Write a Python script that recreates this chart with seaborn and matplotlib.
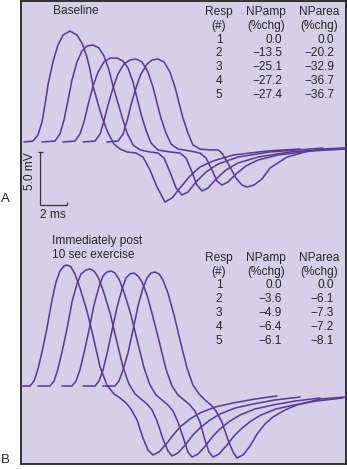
import numpy as np
import pandas as pd
import matplotlib
matplotlib.use("Agg")
import matplotlib.pyplot as plt
import seaborn as sns

# ---------------- DATA ----------------
# Panel A: baseline responses 1..5 (time in ms, amplitude in mV, baseline = 0)
a1_t = [0.30, 0.96, 1.33, 1.63, 1.85, 2.07, 2.44, 2.81, 3.19, 3.70, 4.22, 4.59, 4.96, 5.19, 5.41, 5.70, 6.07, 6.52, 6.96, 7.41, 7.93, 8.59, 9.11, 9.63, 10.15, 10.74, 11.26, 11.85, 12.59, 13.33, 14.30, 15.78, 18.30, 20.74]
a1_v = [0, 0.09, 0.66, 1.89, 3.49, 5.38, 7.55, 9.15, 10.09, 10.47, 10.09, 9.34, 8.02, 6.79, 5.28, 3.96, 2.36, 0.85, -0.19, -0.66, -0.94, -1.04, -1.42, -2.64, -4.25, -5.66, -5.28, -4.34, -3.21, -2.36, -1.79, -1.23, -0.85, -0.66]

a2_t = [1.63, 2.59, 2.96, 3.26, 3.56, 3.85, 4.22, 4.59, 4.96, 5.41, 5.85, 6.22, 6.59, 6.89, 7.19, 7.56, 7.93, 8.37, 8.89, 9.63, 10.22, 10.67, 11.11, 11.56, 12.00, 12.44, 13.04, 13.78, 14.67, 16.15, 18.52, 22.44]
a2_v = [0, 0.09, 0.75, 2.08, 3.96, 5.85, 7.55, 8.58, 9.06, 9.15, 8.87, 8.11, 6.79, 5.28, 3.96, 2.36, 0.85, -0.28, -0.75, -0.94, -1.04, -1.51, -2.83, -4.34, -5.00, -4.72, -3.77, -2.83, -2.08, -1.42, -0.94, -0.57]

a3_t = [3.19, 4.07, 4.44, 4.74, 5.04, 5.41, 5.78, 6.22, 6.67, 7.19, 7.63, 8.00, 8.37, 8.67, 8.96, 9.33, 9.70, 10.22, 11.11, 11.85, 12.30, 12.74, 13.11, 13.48, 13.93, 14.52, 15.26, 16.15, 17.63, 20.00, 24.15]
a3_v = [0, 0.09, 0.75, 1.89, 3.49, 5.28, 6.60, 7.55, 7.92, 7.92, 7.64, 6.98, 5.66, 4.15, 2.64, 1.13, -0.09, -0.75, -0.94, -1.04, -1.51, -2.83, -4.06, -4.62, -4.34, -3.49, -2.64, -1.98, -1.42, -0.94, -0.57]

a4_t = [4.67, 5.56, 5.93, 6.22, 6.52, 6.89, 7.26, 7.70, 8.15, 8.59, 9.04, 9.48, 9.85, 10.15, 10.44, 10.81, 11.19, 11.70, 12.59, 13.33, 13.78, 14.22, 14.59, 14.96, 15.41, 16.00, 16.74, 17.63, 19.11, 21.48, 24.15]
a4_v = [0, 0.09, 0.75, 1.98, 3.49, 5.09, 6.42, 7.36, 7.74, 7.83, 7.55, 6.60, 5.19, 3.68, 2.26, 0.85, -0.19, -0.66, -0.85, -1.04, -1.51, -2.64, -3.68, -4.06, -3.77, -3.02, -2.26, -1.70, -1.23, -0.85, -0.66]

a5_t = [6.44, 7.26, 7.63, 7.93, 8.22, 8.59, 8.96, 9.41, 9.78, 10.22, 10.67, 11.11, 11.48, 11.78, 12.07, 12.44, 12.81, 13.33, 14.07, 14.67, 14.96, 15.56, 16.00, 16.44, 16.81, 17.33, 17.93, 18.52, 19.78, 21.11, 22.44, 24.15]
a5_v = [0, 0.09, 0.75, 1.98, 3.49, 5.09, 6.42, 7.36, 7.74, 7.83, 7.55, 6.60, 5.19, 3.68, 2.26, 0.85, -0.28, -0.66, -0.75, -0.75, -1.04, -2.36, -3.40, -4.06, -4.25, -4.06, -3.49, -2.45, -1.42, -0.94, -0.66, -0.57]

# Panel B: immediately post 10 sec exercise
b1_t = [0.00, 0.74, 1.04, 1.33, 1.63, 2.00, 2.37, 2.67, 2.96, 3.26, 3.48, 3.78, 4.07, 4.44, 4.96, 5.41, 5.93, 6.44, 6.96, 7.41, 7.85, 8.22, 8.67, 9.11, 9.48, 9.85, 10.30, 10.89, 11.41, 11.85, 12.59, 13.33, 14.44, 15.78, 17.41, 19.04]
b1_v = [0, 0, 0.47, 1.60, 3.21, 5.47, 8.11, 9.81, 10.85, 11.32, 11.42, 11.23, 10.57, 9.25, 7.08, 4.72, 1.79, 0.09, -0.75, -1.13, -1.60, -2.17, -3.21, -4.91, -6.04, -6.51, -6.23, -5.38, -4.53, -3.87, -3.11, -2.55, -1.98, -1.60, -1.23, -0.94]

b2_t = [1.33, 2.22, 2.52, 2.81, 3.11, 3.48, 3.85, 4.22, 4.52, 4.89, 5.19, 5.48, 5.78, 6.15, 6.67, 7.11, 7.63, 8.07, 8.52, 8.96, 9.41, 9.78, 10.15, 10.59, 10.96, 11.26, 11.70, 12.30, 12.81, 13.33, 14.07, 14.81, 15.93, 17.26, 18.89, 20.74]
b2_v = [0, 0, 0.47, 1.60, 3.21, 5.38, 7.92, 9.62, 10.57, 10.94, 11.04, 10.85, 10.28, 9.06, 6.89, 4.53, 1.79, 0.19, -0.75, -1.23, -1.70, -2.26, -3.30, -5.00, -6.13, -6.60, -6.32, -5.47, -4.62, -3.96, -3.21, -2.64, -2.08, -1.70, -1.32, -1.04]

b3_t = [3.11, 3.85, 4.15, 4.44, 4.74, 5.11, 5.48, 5.85, 6.15, 6.44, 6.74, 7.04, 7.33, 7.70, 8.22, 8.67, 9.19, 9.63, 10.07, 10.52, 10.96, 11.33, 11.70, 12.15, 12.44, 12.74, 13.19, 13.78, 14.30, 14.81, 15.56, 16.30, 17.41, 18.74, 20.37, 22.22]
b3_v = [0, 0, 0.47, 1.51, 3.11, 5.28, 7.64, 9.34, 10.38, 10.75, 10.85, 10.66, 10.09, 8.87, 6.70, 4.34, 1.70, 0.09, -0.85, -1.32, -1.79, -2.36, -3.40, -5.09, -6.23, -6.70, -6.42, -5.57, -4.72, -4.06, -3.30, -2.74, -2.17, -1.79, -1.42, -1.13]

b4_t = [4.67, 5.56, 5.85, 6.15, 6.44, 6.81, 7.19, 7.56, 7.85, 8.15, 8.44, 8.74, 9.04, 9.41, 9.85, 10.30, 10.81, 11.26, 11.70, 12.15, 12.59, 12.96, 13.33, 13.70, 14.00, 14.30, 14.74, 15.33, 15.85, 16.37, 17.11, 17.85, 18.96, 20.30, 21.93, 23.93]
b4_v = [0, 0, 0.47, 1.51, 3.02, 5.19, 7.45, 9.15, 10.19, 10.57, 10.66, 10.38, 9.81, 8.58, 6.51, 4.25, 1.60, 0, -0.85, -1.32, -1.79, -2.36, -3.40, -5.09, -6.23, -6.70, -6.42, -5.57, -4.72, -4.06, -3.30, -2.74, -2.17, -1.79, -1.42, -1.13]

b5_t = [6.15, 7.04, 7.33, 7.63, 8.00, 8.37, 8.74, 9.11, 9.41, 9.70, 10.00, 10.30, 10.59, 10.96, 11.41, 11.85, 12.37, 12.81, 13.26, 13.70, 14.15, 14.52, 14.96, 15.41, 15.78, 16.07, 16.52, 17.04, 17.56, 18.15, 18.74, 19.63, 20.52, 22.22, 24.15]
b5_v = [0, 0, 0.47, 1.51, 3.11, 5.28, 7.55, 9.25, 10.19, 10.66, 10.75, 10.57, 10.00, 8.77, 6.70, 4.34, 1.70, 0.09, -0.75, -1.32, -1.79, -2.36, -3.40, -5.09, -6.23, -6.79, -6.51, -5.66, -4.53, -3.58, -2.92, -2.26, -1.79, -1.23, -1.04]

# Tables
resp_nums = [1, 2, 3, 4, 5]
base_npamp = [0.0, -13.5, -25.1, -27.2, -27.4]
base_nparea = [0.0, -20.2, -32.9, -36.7, -36.7]
post_npamp = [0.0, -3.6, -4.9, -6.4, -6.1]
post_nparea = [0.0, -6.1, -7.3, -7.2, -8.1]

scale_ms = 2
scale_mv = 5.0

# ---------------- STYLE / LAYOUT ----------------
sns.set_style("white")
plt.rcParams["font.family"] = ["Liberation Sans", "DejaVu Sans"]

LAV = "#d5d0e8"
PURPLE = "#5a3c98"
W, H = 347, 469
PX_MS, PX_MV = 13.5, 10.6      # drawing scale (pixels per ms / per mV)
T0 = 20                         # pixel column of t = 0
BOX = (21, 1, 346, 464)         # panel frame, pixels
BASE_A, BASE_B = 142, 386       # baseline pixel rows
SPLIT = 233
FS = 8.6

fig = plt.figure(figsize=(W / 100, H / 100), dpi=100)
fig.patch.set_facecolor("white")


def fbox(x0, y0, x1, y1):
    return [x0 / W, 1 - y1 / H, (x1 - x0) / W, (y1 - y0) / H]


bg = fig.add_axes(fbox(*BOX))
bg.set_facecolor(LAV)
bg.set_xticks([])
bg.set_yticks([])
for s in bg.spines.values():
    s.set_color("#222222")
    s.set_linewidth(1.3)


def make_df(ts, vs):
    rows = []
    for i, (t, v) in enumerate(zip(ts, vs)):
        rows.append(pd.DataFrame({"t": t, "v": v, "resp": i + 1}))
    return pd.concat(rows, ignore_index=True)


dfA = make_df([a1_t, a2_t, a3_t, a4_t, a5_t], [a1_v, a2_v, a3_v, a4_v, a5_v])
dfB = make_df([b1_t, b2_t, b3_t, b4_t, b5_t], [b1_v, b2_v, b3_v, b4_v, b5_v])


def panel(df, top, bottom, base):
    ax = fig.add_axes(fbox(BOX[0], top, BOX[2], bottom))
    ax.patch.set_alpha(0)
    sns.lineplot(data=df, x="t", y="v", units="resp", estimator=None, sort=False,
                 color=PURPLE, linewidth=1.15, ax=ax, legend=False)
    ax.set_xlim((BOX[0] - T0) / PX_MS, (BOX[2] - T0) / PX_MS)
    ax.set_ylim((base - bottom) / PX_MV, (base - top) / PX_MV)
    ax.set_axis_off()
    return ax


axA = panel(dfA, BOX[1], SPLIT, BASE_A)
axB = panel(dfB, SPLIT, BOX[3], BASE_B)

# scale bar (panel A)
sx = (40 - T0) / PX_MS
sy = (BASE_A - 205) / PX_MV
kw = dict(color="#333333", lw=0.9, solid_capstyle="butt")
axA.plot([sx, sx], [sy, sy + scale_mv], **kw)
axA.plot([sx, sx + scale_ms], [sy, sy], **kw)
axA.plot([sx - 0.12, sx + 0.25], [sy + scale_mv, sy + scale_mv], **kw)
axA.plot([sx + scale_ms, sx + scale_ms], [sy, sy + 0.3], **kw)


def ftext(x, y, s, **k):
    fig.text(x / W, 1 - y / H, s, va="center", fontsize=k.pop("fontsize", FS), **k)


ftext(30, 171, f"{scale_mv:.1f} mV", rotation=90, ha="center")
ftext(53, 215, f"{scale_ms} ms", ha="center")

ftext(5, 199, "A", ha="center", fontsize=9.5)
ftext(5, 460, "B", ha="center", fontsize=9.5)

ftext(53, 11, "Baseline", ha="left")
ftext(52, 241, "Immediately post", ha="left")
ftext(52, 254.5, "10 sec exercise", ha="left")


def fmt(v):
    return f"{v:.1f}".replace("-", "\u2212")


def table(y_head, row_ys, amp, area):
    ftext(219, y_head, "Resp", ha="center")
    ftext(219, y_head + 13.5, "(#)", ha="center")
    ftext(266, y_head, "NPamp", ha="center")
    ftext(266, y_head + 13.5, "(%chg)", ha="center")
    ftext(319.5, y_head, "NParea", ha="center")
    ftext(319.5, y_head + 13.5, "(%chg)", ha="center")
    for r, y, a, b in zip(resp_nums, row_ys, amp, area):
        ftext(219, y, str(r), ha="center")
        ftext(282, y, fmt(a), ha="right")
        ftext(334, y, fmt(b), ha="right")


table(12, [40, 53.5, 67, 81, 95], base_npamp, base_nparea)
table(258, [285, 298.5, 312.5, 326.5, 340.5], post_npamp, post_nparea)

fig.savefig("out.png", dpi=100, facecolor="white")
